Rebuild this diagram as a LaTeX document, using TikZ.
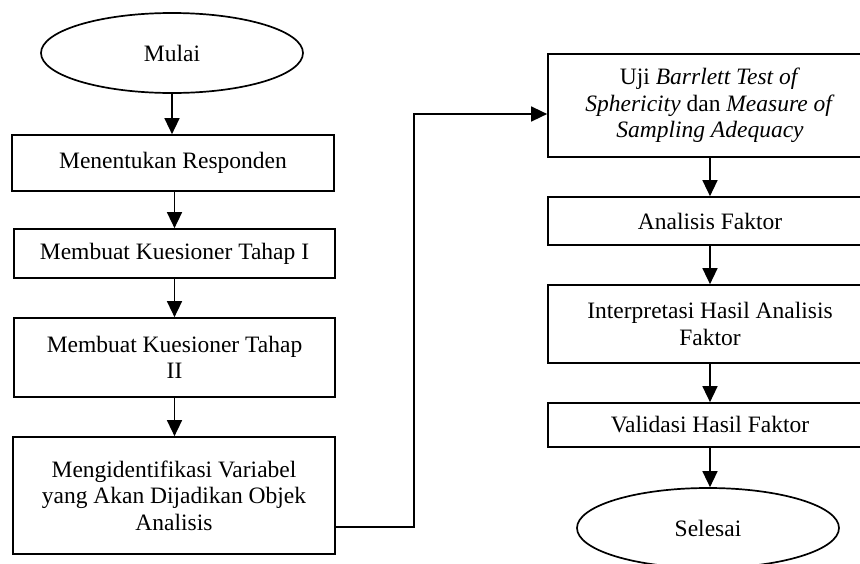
\documentclass[tikz,border=0pt]{standalone}
\usepackage{fontspec}
\setmainfont{Liberation Serif}
\usetikzlibrary{arrows.meta,shapes.geometric}
\begin{document}
\begin{tikzpicture}[x=1pt,y=-1pt,
  txt/.style={font=\fontsize{23.5}{26.5}\selectfont,align=center},
  box/.style={txt,draw,line width=1.7pt,rectangle,inner sep=0pt},
  oval/.style={txt,draw,line width=1.7pt,ellipse,inner sep=0pt,minimum width=262pt,minimum height=80pt},
  arr/.style={line width=1.5pt,-{Triangle[length=16pt,width=15pt]}}]
\useasboundingbox (0,0) rectangle (860,563);
\clip (0,0) rectangle (860,563);
% left column
\node[oval] (mulai) at (172,53) {Mulai};
\node[box,minimum width=322pt,minimum height=56pt] (b1) at (173,163) {Menentukan Responden};
\node[box,minimum width=321pt,minimum height=49pt] (b2) at (174.5,253.5) {Membuat Kuesioner Tahap I};
\node[box,minimum width=321pt,minimum height=79pt] (b3) at (174.5,357.5) {Membuat Kuesioner Tahap\\II};
\node[box,minimum width=322pt,minimum height=117pt] (b4) at (174,495.5) {Mengidentifikasi Variabel\\yang Akan Dijadikan Objek\\Analisis};
% right column
\node[box,minimum width=324pt,minimum height=103pt] (r1) at (710,105.5) {Uji \textit{Barrlett Test of}\\\textit{Sphericity} dan \textit{Measure of}\\\textit{Sampling Adequacy}};
\node[box,minimum width=324pt,minimum height=48pt] (r2) at (710,221) {Analisis Faktor};
\node[box,minimum width=324pt,minimum height=78pt] (r3) at (710,324) {Interpretasi Hasil Analisis\\Faktor};
\node[box,minimum width=324pt,minimum height=44pt] (r4) at (710,425) {Validasi Hasil Faktor};
\node[oval] (selesai) at (708,528) {Selesai};
% connectors
\draw[arr] (mulai.south) -- (mulai.south |- b1.north);
\draw[arr] (b1.south -| b2) -- (b2.north);
\draw[arr] (b2.south) -- (b3.north);
\draw[arr] (b3.south) -- (b3.south |- b4.north);
\coordinate (bend) at (414,527);
\draw[arr] ([yshift=-31.5pt]b4.east) -- (bend) |- ([yshift=-8.5pt]r1.west);
\draw[arr] (r1.south) -- (r2.north);
\draw[arr] (r2.south) -- (r3.north);
\draw[arr] (r3.south) -- (r4.north);
\draw[arr] (r4.south) -- (r4.south |- selesai.north);
\end{tikzpicture}
\end{document}
